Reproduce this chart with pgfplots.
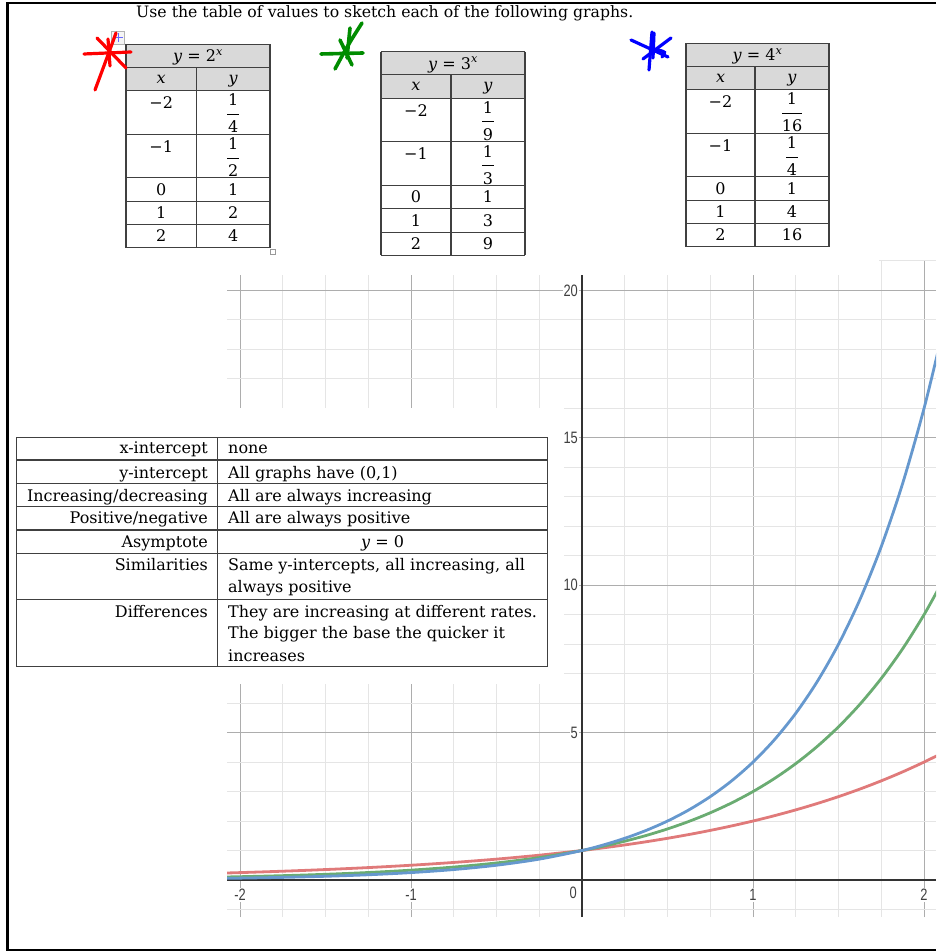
\documentclass[border=0pt]{standalone}
\usepackage{fontspec}
\setmainfont{DejaVu Serif}
\newfontfamily\desmos{Liberation Sans}
\usepackage{graphicx}
\usepackage{pgfplots}
\pgfplotsset{compat=1.18}

\definecolor{cRed}{RGB}{224,122,122}
\definecolor{cGreen}{RGB}{106,172,114}
\definecolor{cBlue}{RGB}{102,152,206}
\definecolor{hdr}{RGB}{217,217,217}
\definecolor{rule}{RGB}{64,64,64}

\newcommand\tl[1]{\scalebox{0.78}[1]{#1}}

% small table of values: L, divider, R, top (pixels from top), base, den1, den2, val1, val2
\newcommand\smalltab[9]{%
  \begin{scope}[shift={(0,952-#4)}]
    \fill[hdr] (#1,0) rectangle (#3,-46.5);
    \foreach \o in {0,23,46.5,90,133.5,157,180.5,203.5}
      \draw[rule, line width=1.3pt] (#1,-\o) -- (#3,-\o);
    \draw[rule, line width=1.3pt] (#1,0) -- (#1,-203.5) (#3,0) -- (#3,-203.5) (#2,-23) -- (#2,-203.5);
    \path[every node/.style={anchor=base, inner sep=0pt}]
      ({(#1+#3)/2},-17.5) node {\textit{y} = #5\textsuperscript{\textit{x}}}
      ({(#1+#2)/2},-39) node {\textit{x}}
      ({(#2+#3)/2},-39) node {\textit{y}}
      ({(#1+#2)/2},-64.6) node {−2}
      ({(#2+#3)/2},-61.6) node {1}
      ({(#2+#3)/2},-88.6) node {#6}
      ({(#1+#2)/2},-108) node {−1}
      ({(#2+#3)/2},-105.6) node {1}
      ({(#2+#3)/2},-132.6) node {#7}
      ({(#1+#2)/2},-151) node {0}
      ({(#2+#3)/2},-151) node {1}
      ({(#1+#2)/2},-174.6) node {1}
      ({(#2+#3)/2},-174.6) node {#8}
      ({(#1+#2)/2},-197.6) node {2}
      ({(#2+#3)/2},-197.6) node {#9};
  \end{scope}}

\begin{document}
\fontsize{16}{20}\selectfont
\begin{tikzpicture}[x=1pt,y=1pt]
\path[use as bounding box] (0,0) rectangle (936,952);

\begin{axis}[
  at={(227pt,35pt)}, anchor=south west, scale only axis,
  width=709pt, height=656pt,
  xmin=-2.076, xmax=2.07, ymin=-1.256, ymax=21,
  axis lines=middle, axis line style={-, line width=2pt, draw=black!80},
  xtick={-2,-1,1,2}, xticklabels={\tl{-2},\tl{-1},\tl{1},\tl{2}},
  ytick={5,10,15,20}, yticklabels={\tl{5},\tl{10},\tl{15},\tl{20}},
  minor xtick={-2,-1.75,...,2}, minor ytick={-1,0,...,21},
  grid=both,
  major grid style={draw=black!32, line width=1pt},
  minor grid style={draw=black!10, line width=1pt},
  major tick length=0pt, minor tick length=0pt,
  ticklabel style={font=\desmos\fontsize{16.5}{16.5}\selectfont, text=black!75},
  yticklabel style={anchor=east, inner sep=1pt, xshift=-3pt, fill=white},
  xticklabel style={anchor=north, inner sep=1pt, yshift=-8pt, fill=white},
]
\addplot[cRed, line width=2.8pt, smooth, no markers] coordinates {
(-2.1,0.2333) (-2,0.25) (-1.75,0.2973) (-1.5,0.3536) (-1.25,0.4204) (-1,0.5)
(-0.75,0.5946) (-0.5,0.7071) (-0.25,0.8409) (0,1) (0.125,1.0905) (0.25,1.1892)
(0.375,1.2968) (0.5,1.4142) (0.625,1.5422) (0.75,1.6818) (0.875,1.8340) (1,2)
(1.125,2.1810) (1.25,2.3784) (1.375,2.5937) (1.5,2.8284) (1.625,3.0844)
(1.75,3.3636) (1.875,3.6680) (2,4) (2.1,4.2871)};
\addplot[cGreen, line width=2.8pt, smooth, no markers] coordinates {
(-2.1,0.0996) (-2,0.1111) (-1.75,0.1462) (-1.5,0.1925) (-1.25,0.2533) (-1,0.3333)
(-0.75,0.4387) (-0.5,0.5774) (-0.25,0.7598) (0,1) (0.125,1.1472) (0.25,1.3161)
(0.375,1.5098) (0.5,1.7321) (0.625,1.9870) (0.75,2.2795) (0.875,2.6150) (1,3)
(1.125,3.4417) (1.25,3.9482) (1.375,4.5294) (1.5,5.1962) (1.625,5.9611)
(1.75,6.8385) (1.875,7.8452) (2,9) (2.1,10.0451)};
\addplot[cBlue, line width=2.8pt, smooth, no markers] coordinates {
(-2.1,0.0544) (-2,0.0625) (-1.75,0.0884) (-1.5,0.125) (-1.25,0.1768) (-1,0.25)
(-0.75,0.3536) (-0.5,0.5) (-0.25,0.7071) (0,1) (0.125,1.1892) (0.25,1.4142)
(0.375,1.6818) (0.5,2) (0.625,2.3784) (0.75,2.8284) (0.875,3.3636) (1,4)
(1.125,4.7568) (1.25,5.6569) (1.375,6.7272) (1.5,8) (1.625,9.5137)
(1.75,11.3137) (1.875,13.4543) (2,16) (2.1,18.3792)};
\node[anchor=north east, inner sep=0pt, xshift=-5pt, yshift=-7pt,
  font=\desmos\fontsize{16.5}{16.5}\selectfont, text=black!75] at (axis cs:0,0) {\tl{0}};
\end{axis}

% parts of the graph hidden behind the page
\fill[white] (200,952-408) rectangle (564,952-684);
\fill[white] (150,952-255) rectangle (879,952-275);

% title
\node[anchor=base west, inner sep=0pt, font=\fontsize{15.7}{18}\selectfont] at (136,952-18) {Use the table of values to sketch each of the following graphs.};

% tables of values
\smalltab{126}{196.5}{270}{44.3}{2}{4}{2}{2}{4}
\smalltab{381}{451}{525}{51.7}{3}{9}{3}{3}{9}
\smalltab{686}{755}{829}{43.3}{4}{16}{4}{4}{16}
\foreach \xc/\top/\w in {233.2/44.3/12, 488/51.7/12, 792/43.3/20}{
  \draw[black, line width=1pt] ({\xc-\w/2},952-\top-70) -- ({\xc+\w/2},952-\top-70);
  \draw[black, line width=1pt] ({\xc-6},952-\top-114) -- ({\xc+6},952-\top-114);
}

% word handles
\draw[black!30, fill=black!4] (111.5,952-31) rectangle (124.5,952-44);
\draw[blue!60, line width=0.8pt] (113.5,952-37.5) -- (122.5,952-37.5) (118,952-33) -- (118,952-42);
\draw[black!40, fill=white] (270,952-249) rectangle (275.5,952-254.5);

% properties table
\fill[white] (16.3,952-437.3) rectangle (547.7,952-666.7);
\foreach \yy in {437.3,460,483.3,506.7,530,553.3,599.3,666.7}
  \draw[rule, line width=1.1pt] (16.3,952-\yy) -- (547.7,952-\yy);
\draw[rule, line width=1.1pt] (16.3,952-437.3) -- (16.3,952-666.7)
  (217.5,952-437.3) -- (217.5,952-666.7) (547.7,952-437.3) -- (547.7,952-666.7);
\begin{scope}[every node/.style={inner sep=0pt}]
\node[anchor=base east] at (208,952-453.5) {x-intercept};
\node[anchor=base east] at (208,952-478.2) {y-intercept};
\node[anchor=base east] at (208,952-501.2) {Increasing/decreasing};
\node[anchor=base east] at (208,952-523.8) {Positive/negative};
\node[anchor=base east] at (208,952-547.2) {Asymptote};
\node[anchor=base east] at (208,952-570.5) {Similarities};
\node[anchor=base east] at (208,952-617.2) {Differences};
\node[anchor=base west] at (228,952-453.5) {none};
\node[anchor=base west] at (228,952-478.2) {All graphs have (0,1)};
\node[anchor=base west] at (228,952-501.2) {All are always increasing};
\node[anchor=base west] at (228,952-523.8) {All are always positive};
\node[anchor=base] at (382.6,952-547.2) {\textit{y} = 0};
\node[anchor=base west] at (228,952-570.5) {Same y-intercepts, all increasing, all};
\node[anchor=base west] at (228,952-592.8) {always positive};
\node[anchor=base west] at (228,952-617.2) {They are increasing at different rates.};
\node[anchor=base west] at (228,952-638.8) {The bigger the base the quicker it};
\node[anchor=base west] at (228,952-661.5) {increases};
\end{scope}

% hand-drawn marks
\begin{scope}[line width=3.2pt, line cap=round, red]
\draw (84,952-54) -- (131,952-52);
\draw (97,952-38) -- (126,952-68);
\draw (116,952-33) .. controls (108,952-55) .. (95,952-90);
\draw (108,952-39) -- (110,952-66);
\end{scope}
\begin{scope}[line width=3.6pt, line cap=round, color={rgb,255:red,0;green,140;blue,0}]
\draw (321,952-54) -- (363,952-53);
\draw (362,952-23) .. controls (348,952-45) .. (335,952-69);
\draw (340,952-40) -- (352,952-65);
\draw (350,952-28) -- (347,952-58);
\end{scope}
\begin{scope}[line width=3.2pt, line cap=round, blue]
\draw (652,952-32) -- (649,952-70);
\draw (654,952-33) -- (653,952-58);
\draw (631,952-40) -- (668,952-57);
\draw (671,952-38) -- (643,952-59);
\draw (658,952-50) .. controls (666,952-52) .. (662,952-57);
\end{scope}

% page frame
\draw[black, line width=2.6pt] (936,952-3) -- (7.5,952-3) -- (7.5,952-950) -- (936,952-950);
\end{tikzpicture}
\end{document}
